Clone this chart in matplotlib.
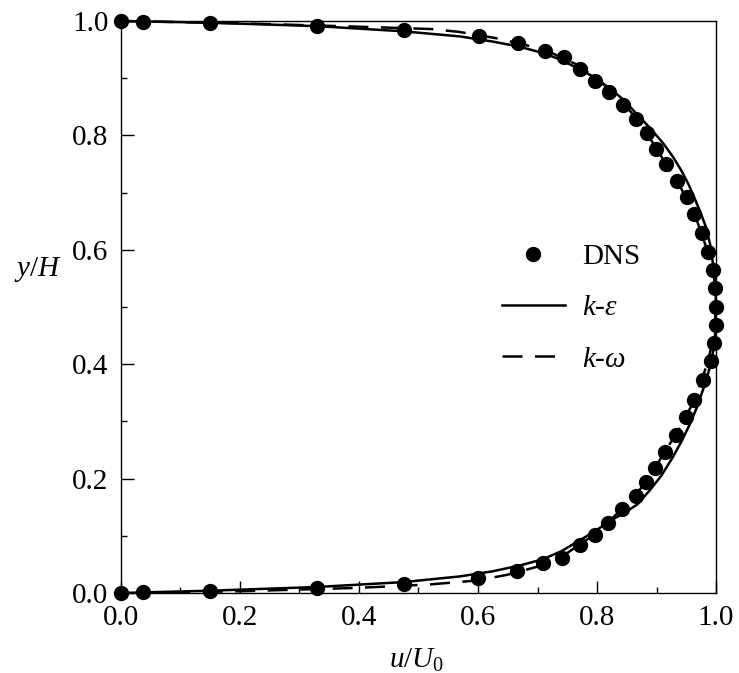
import matplotlib
matplotlib.use("Agg")
import matplotlib.pyplot as plt
from matplotlib.ticker import MultipleLocator

plt.rcParams['font.family'] = ['Liberation Serif', 'DejaVu Serif']
plt.rcParams['mathtext.fontset'] = 'custom'
plt.rcParams['mathtext.rm'] = 'Liberation Serif'
plt.rcParams['mathtext.it'] = 'Liberation Serif:italic'

# DNS data (u/U0, y/H)
dns_u = [0.0, 0.037, 0.150, 0.330, 0.476, 0.602, 0.667, 0.713, 0.745, 0.771,
         0.797, 0.820, 0.844, 0.866, 0.884, 0.899, 0.916, 0.934, 0.951, 0.963,
         0.976, 0.987, 0.995, 0.998, 1.000,
         1.000, 0.997, 0.992, 0.978, 0.963, 0.950, 0.932, 0.915, 0.897, 0.882,
         0.866, 0.842, 0.818, 0.797, 0.771, 0.741, 0.709, 0.666, 0.600, 0.476,
         0.329, 0.150, 0.037, 0.0]
dns_y = [1.000, 0.999, 0.997, 0.992, 0.984, 0.974, 0.962, 0.948, 0.937, 0.916,
         0.895, 0.876, 0.853, 0.829, 0.804, 0.776, 0.750, 0.721, 0.692, 0.662,
         0.629, 0.596, 0.565, 0.533, 0.500,
         0.469, 0.437, 0.405, 0.372, 0.338, 0.307, 0.276, 0.247, 0.219, 0.194,
         0.170, 0.147, 0.122, 0.101, 0.084, 0.061, 0.052, 0.038, 0.026, 0.016,
         0.009, 0.003, 0.002, 0.0]

# k-epsilon model
ke_u = [0.0, 0.15, 0.33, 0.474, 0.57, 0.625, 0.67, 0.709, 0.74, 0.766, 0.795,
        0.822, 0.846, 0.866, 0.89, 0.912, 0.928, 0.942, 0.954, 0.964, 0.974,
        0.983, 0.99, 0.995, 0.999, 1.0, 0.999, 0.998, 0.993, 0.987, 0.978,
        0.968, 0.956, 0.942, 0.926, 0.908, 0.889, 0.868, 0.846, 0.822, 0.795,
        0.766, 0.74, 0.709, 0.67, 0.625, 0.57, 0.474, 0.33, 0.15, 0.0]
ke_y = [1.0, 0.997, 0.991, 0.982, 0.973, 0.964, 0.955, 0.944, 0.932, 0.918,
        0.902, 0.882, 0.861, 0.838, 0.812, 0.785, 0.762, 0.738, 0.714, 0.690,
        0.665, 0.640, 0.610, 0.575, 0.540, 0.500, 0.470, 0.440, 0.410, 0.385,
        0.355, 0.325, 0.295, 0.265, 0.235, 0.205, 0.180, 0.155, 0.140, 0.126,
        0.107, 0.089, 0.073, 0.059, 0.048, 0.038, 0.029, 0.019, 0.0105, 0.004,
        0.0]

# k-omega model
kw_u = [0.0, 0.2, 0.4, 0.52, 0.568, 0.63, 0.68, 0.72, 0.77, 0.81, 0.85, 0.88,
        0.91, 0.94, 0.965, 0.985, 0.997, 1.0, 0.997, 0.985, 0.965, 0.94, 0.91,
        0.88, 0.84, 0.80, 0.75, 0.70, 0.65, 0.60, 0.52, 0.40, 0.20, 0.0]
kw_y = [1.0, 0.996, 0.990, 0.986, 0.981, 0.970, 0.958, 0.946, 0.922, 0.890,
        0.850, 0.810, 0.760, 0.710, 0.660, 0.600, 0.550, 0.500, 0.450, 0.400,
        0.340, 0.290, 0.240, 0.190, 0.145, 0.105, 0.070, 0.046, 0.032, 0.022,
        0.015, 0.009, 0.003, 0.0]

x_ticks = [0.0, 0.2, 0.4, 0.6, 0.8, 1.0]
y_ticks = [0.0, 0.2, 0.4, 0.6, 0.8, 1.0]

fig = plt.figure(figsize=(7.39, 6.73), dpi=100)
ax = fig.add_axes([0.1637, 0.1189, 0.8052, 0.8499])

ax.plot(dns_u, dns_y, 'o', color='black', markersize=10, clip_on=False,
        label='DNS', zorder=3)
ax.plot(ke_u, ke_y, '-', color='black', lw=1.8, label=r'$k$-$\varepsilon$',
        clip_on=False)
ax.plot(kw_u, kw_y, color='black', lw=1.8, linestyle=(0, (8, 5)),
        label=r'$k$-$\omega$', clip_on=False)

ax.set_xlim(0, 1)
ax.set_ylim(0, 1)
ax.set_xticks(x_ticks)
ax.set_yticks(y_ticks)
ax.set_xticklabels([f"{v:.1f}" for v in x_ticks])
ax.set_yticklabels([f"{v:.1f}" for v in y_ticks])
ax.xaxis.set_minor_locator(MultipleLocator(0.1))
ax.yaxis.set_minor_locator(MultipleLocator(0.1))
ax.tick_params(which='both', direction='in', top=False, right=False,
               labelsize=21, width=1.0, pad=9)
ax.tick_params(which='major', length=9)
ax.tick_params(which='minor', length=4.5)
for s in ax.spines.values():
    s.set_linewidth(1.0)

ax.set_xlabel(r'$u/U_0$', fontsize=21)
ax.xaxis.set_label_coords(0.496, -0.094)
ax.set_ylabel(r'$y/H$', fontsize=21, rotation=0)
ax.yaxis.set_label_coords(-0.14, 0.54)

leg = ax.legend(loc='center left', bbox_to_anchor=(0.64, 0.498), frameon=False,
                fontsize=21, numpoints=1, handlelength=2.15, handletextpad=0.6,
                labelspacing=0.85, borderpad=0, borderaxespad=0)

fig.savefig('out.png', dpi=100)
